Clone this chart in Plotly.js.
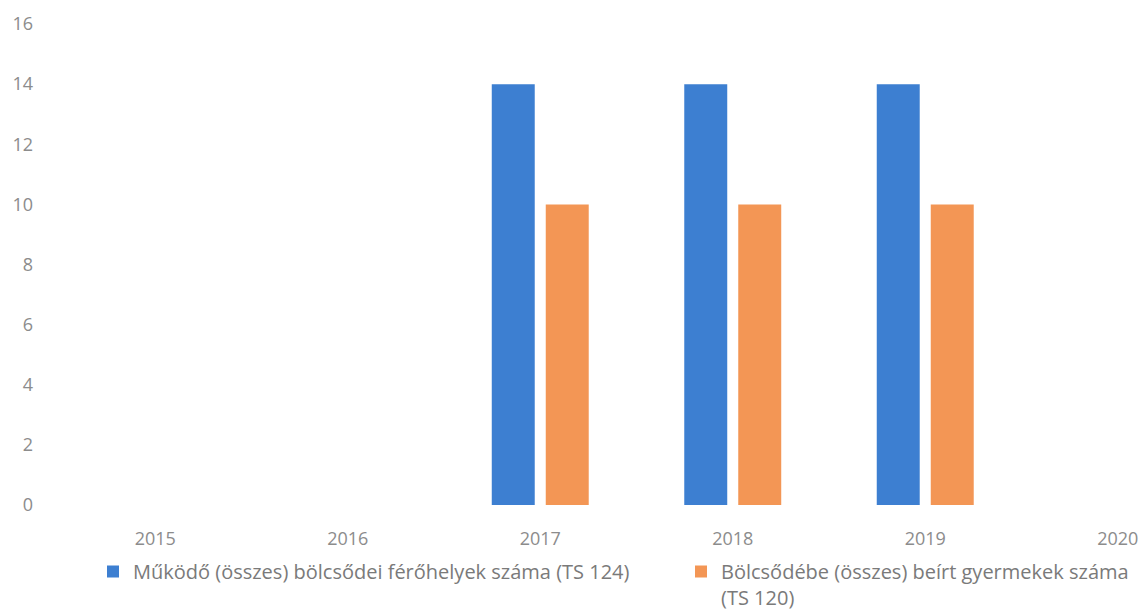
<!DOCTYPE html>
<html>
<head>
<meta charset="utf-8">
<script src="https://cdn.plot.ly/plotly-3.0.1.min.js"></script>
<style>html,body{margin:0;padding:0;background:#fff;}#chart{width:1147px;height:612px;}</style>
</head>
<body>
<div id="chart"></div>
<script>
const years = ['2015', '2016', '2017', '2018', '2019', '2020'];
const ferohelyek = [null, null, 14, 14, 14, null];
const beirtGyermekek = [null, null, 10, 10, 10, null];
const seriesNames = [
  'Működő (összes) bölcsődei férőhelyek száma (TS 124)',
  'Bölcsődébe (összes) beírt gyermekek száma<br>(TS 120)'
];
const yTicks = [0, 2, 4, 6, 8, 10, 12, 14, 16];

const FONT = 'Open Sans, Lato, sans-serif';
const legendFont = {family: FONT, size: 20, color: '#7a7a7a'};
const data = [
  {type: 'bar', x: years, y: ferohelyek, name: seriesNames[0], legend: 'legend',
   marker: {color: '#3d7fd1'}, hoverinfo: 'y'},
  {type: 'bar', x: years, y: beirtGyermekek, name: seriesNames[1], legend: 'legend2',
   marker: {color: '#f39655'}, hoverinfo: 'y'}
];
const legendY = (505 - 552) / 481;
const layout = {
  width: 1147, height: 612,
  margin: {l: 59, r: 0, t: 24, b: 107, autoexpand: false},
  paper_bgcolor: '#ffffff', plot_bgcolor: '#ffffff',
  barmode: 'group', bargap: 0.439, bargroupgap: 0.204,
  font: {family: FONT, color: '#8c8c8c', size: 18},
  xaxis: {type: 'category', categoryorder: 'array', categoryarray: years,
          range: [-0.5, 5.152], showgrid: false, zeroline: false, showline: false,
          ticks: '', ticklabelstandoff: 21,
          tickfont: {family: FONT, size: 18, color: '#8c8c8c'}},
  yaxis: {range: [0, 16], tickvals: yTicks, showgrid: false, zeroline: false, showline: false,
          ticks: '', ticklabelstandoff: 25,
          tickfont: {family: FONT, size: 18, color: '#8c8c8c'}},
  showlegend: true,
  legend: {orientation: 'h', x: (93 - 59) / 1088, xanchor: 'left', y: legendY, yanchor: 'top',
           valign: 'top', itemwidth: 30, font: legendFont, bgcolor: 'rgba(0,0,0,0)'},
  legend2: {orientation: 'h', x: (681 - 59) / 1088, xanchor: 'left', y: legendY, yanchor: 'top',
           valign: 'top', itemwidth: 30, font: legendFont, bgcolor: 'rgba(0,0,0,0)'}
};
Plotly.newPlot('chart', data, layout, {displayModeBar: false, staticPlot: true});
</script>
</body>
</html>
